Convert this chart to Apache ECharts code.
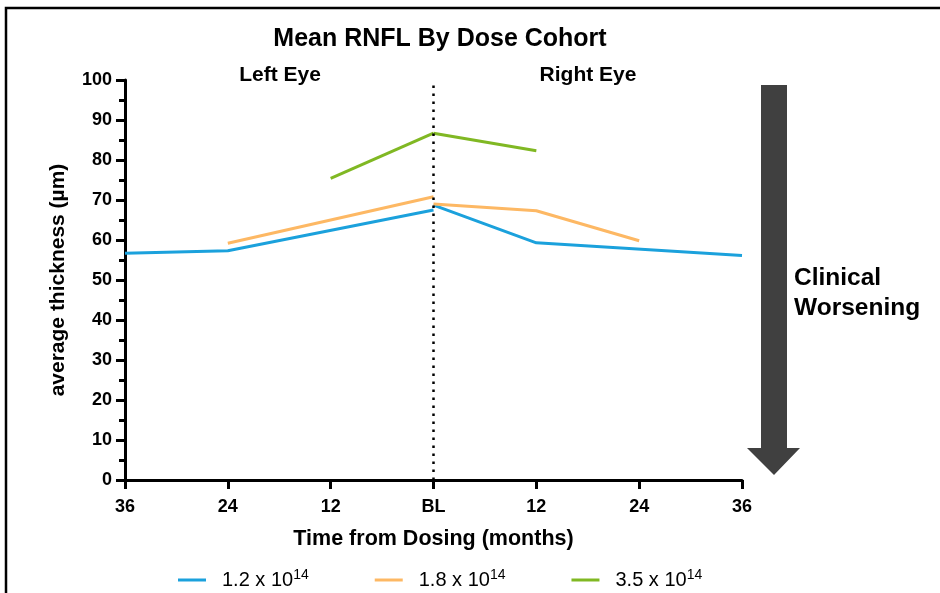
<!DOCTYPE html>
<html>
<head>
<meta charset="utf-8">
<script src="https://cdn.jsdelivr.net/npm/echarts@6/dist/echarts.min.js"></script>
<style>html,body{margin:0;padding:0;background:#fff}#c{width:940px;height:593px}</style>
</head>
<body>
<div id="c"></div>
<script>
// ---- data ----
var categoryIds = ['L36', 'L24', 'L12', 'BL', 'R12', 'R24', 'R36'];
var tickLabels = ['36', '24', '12', 'BL', '12', '24', '36'];
var yTicks = [0, 100, 10];
var cohortNames = ['1.2 x 10^14', '1.8 x 10^14', '3.5 x 10^14'];
var blueLeft   = [56.7, 57.3, null, 67.5, null, null, null];
var blueRight  = [null, null, null, 68.7, 59.3, null, 56.1];
var orangeLeft = [null, 59.2, null, 70.8, null, null, null];
var orangeRight= [null, null, null, 69.0, 67.3, 59.8, null];
var greenLeft  = [null, null, 75.4, 86.7, null, null, null];
var greenRight = [null, null, null, 86.7, 82.3, null, null];
var colors = ['#1ba1dc', '#fdb864', '#80b823'];

var FONT = 'Liberation Sans';
var chart = echarts.init(document.getElementById('c'), null, {renderer: 'canvas'});

function mkSeries(name, data, color, withMark) {
  var s = {
    name: name, type: 'line', data: data, connectNulls: true,
    symbol: 'none', color: color,
    lineStyle: {width: 3, color: color},
    emphasis: {disabled: true}, animation: false
  };
  if (withMark) {
    s.markLine = {
      silent: true, symbol: 'none', label: {show: false},
      lineStyle: {color: '#000', width: 2.5, type: [2.5, 5.5]},
      data: [{xAxis: 3}]
    };
  }
  return s;
}

var option = {
  animation: false,
  textStyle: {fontFamily: FONT},
  title: {
    text: 'Mean RNFL By Dose Cohort', left: 435, top: 22, textAlign: 'center',
    textStyle: {fontFamily: FONT, fontWeight: 'bold', fontSize: 25, color: '#000'}
  },
  grid: {left: 125, right: 198, top: 80, bottom: 113, containLabel: false},
  legend: {
    left: 173, top: 563, itemWidth: 28, itemHeight: 3, itemGap: 66,
    icon: 'rect',
    data: cohortNames,
    formatter: function (n) { var p = n.split('^'); return '{a|' + p[0] + '}{s|' + p[1] + '}'; },
    textStyle: {
      fontFamily: FONT, color: '#000',
      rich: {
        a: {fontFamily: FONT, fontSize: 20, color: '#000', padding: [0, 0, 0, 11], lineHeight: 24},
        s: {fontFamily: FONT, fontSize: 14, color: '#000', verticalAlign: 'top', lineHeight: 14}
      }
    }
  },
  xAxis: {
    type: 'category', data: categoryIds, boundaryGap: false,
    name: 'Time from Dosing (months)', nameLocation: 'middle', nameGap: 48,
    nameTextStyle: {fontFamily: FONT, fontWeight: 'bold', fontSize: 21.5, color: '#000'},
    axisLine: {lineStyle: {color: '#000', width: 3}},
    axisTick: {show: true, length: 9, lineStyle: {color: '#000', width: 3}, alignWithLabel: true},
    axisLabel: {
      fontFamily: FONT, fontWeight: 'bold', fontSize: 18, color: '#000', margin: 18,
      formatter: function (v, i) { return tickLabels[i]; }
    },
    splitLine: {show: false}
  },
  yAxis: {
    type: 'value', min: yTicks[0], max: yTicks[1], interval: yTicks[2],
    name: 'average thickness (\u00b5m)', nameLocation: 'middle', nameGap: 56,
    nameTextStyle: {fontFamily: FONT, fontWeight: 'bold', fontSize: 21, color: '#000'},
    axisLine: {show: true, lineStyle: {color: '#000', width: 3}},
    axisTick: {show: true, length: 9, lineStyle: {color: '#000', width: 3}},
    minorTick: {show: true, splitNumber: 2, length: 6, lineStyle: {color: '#000', width: 3}},
    axisLabel: {fontFamily: FONT, fontWeight: 'bold', fontSize: 18, color: '#000', margin: 13},
    splitLine: {show: false}
  },
  series: [
    mkSeries(cohortNames[0], blueLeft, colors[0], true),
    mkSeries(cohortNames[0], blueRight, colors[0]),
    mkSeries(cohortNames[1], orangeLeft, colors[1]),
    mkSeries(cohortNames[1], orangeRight, colors[1]),
    mkSeries(cohortNames[2], greenLeft, colors[2]),
    mkSeries(cohortNames[2], greenRight, colors[2])
  ],
  graphic: [
    {type: 'polyline', shape: {points: [[6, 600], [6, 8], [945, 8]]}, style: {stroke: '#000', lineWidth: 2.5, fill: null}, silent: true},
    {type: 'text', x: 280, y: 75, style: {text: 'Left Eye', fontFamily: FONT, fontWeight: 'bold', fontSize: 21, fill: '#000', align: 'center', verticalAlign: 'middle'}},
    {type: 'text', x: 588, y: 75, style: {text: 'Right Eye', fontFamily: FONT, fontWeight: 'bold', fontSize: 21, fill: '#000', align: 'center', verticalAlign: 'middle'}},
    {type: 'polygon', shape: {points: [[761, 85], [787, 85], [787, 448], [800, 448], [774, 475], [747, 448], [761, 448]]}, style: {fill: '#404040'}, silent: true},
    {type: 'text', x: 794, y: 263, style: {text: 'Clinical\nWorsening', fontFamily: FONT, fontWeight: 'bold', fontSize: 24.5, lineHeight: 30, fill: '#000', align: 'left', verticalAlign: 'top'}}
  ]
};
chart.setOption(option);
</script>
</body>
</html>
